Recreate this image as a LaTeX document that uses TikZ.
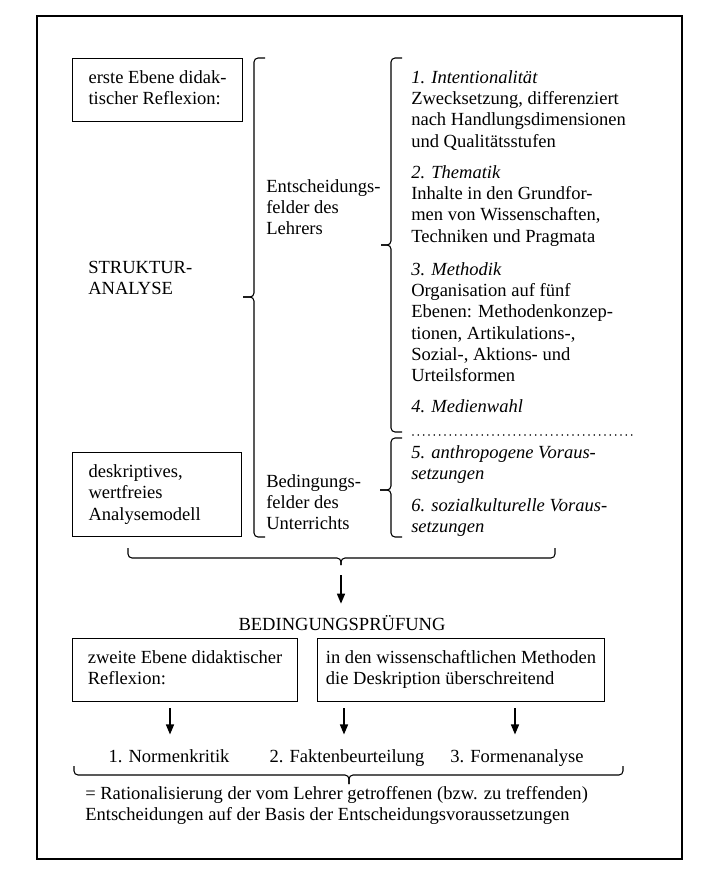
\documentclass[tikz,border=0pt]{standalone}
\usepackage{fontspec}
\setmainfont{Liberation Serif}
\usepackage{tikz}
\usetikzlibrary{arrows.meta}

\newcommand{\diafont}{\fontsize{13.9}{16}\selectfont}

\begin{document}
\begin{tikzpicture}[x=0.75pt,y=-0.75pt,
  font=\diafont,
  >={Triangle[length=7.5pt,width=6pt]},
  box/.style={draw,line width=0.8pt,anchor=north west,align=left},
  txt/.style={anchor=north west,align=left,inner sep=0pt},
  ital/.style={txt,font=\diafont\itshape},
  brace/.style={line width=0.8pt,rounded corners=3pt},
  arr/.style={->,line width=1.1pt}]
\useasboundingbox (0,0) rectangle (720,871);
\draw[line width=1.2pt] (37,16) rectangle (682,859);

% left column
\node[box,minimum width=127.5pt,minimum height=47.25pt] (ebene1) at (72,58)
  {\strut erste Ebene didak-\\tischer Reflexion:\strut};
\node[txt] (struktur) at (88,258.1) {\strut STRUKTUR-\\ANALYSE};
\node[box,minimum width=126.75pt,minimum height=63pt,text width=102.75pt] (deskr) at (72,452)
  {\strut deskriptives,\\wertfreies\\Analysemodell\strut};

% brace STRUKTUR-ANALYSE
\draw[brace] (265,58) -- (254,58) -- (254,297) -- (243,297);
\draw[brace] (243,297) -- (254,297) -- (254,537) -- (265,537);

% middle column
\node[txt] (entsch) at (266,177.1) {\strut Entscheidungs-\\felder des\\Lehrers};
\node[txt] (beding) at (266,472.1) {\strut Bedingungs-\\felder des\\Unterrichts};

% braces Entscheidungsfelder / Bedingungsfelder
\draw[brace] (402,58) -- (391,58) -- (391,245) -- (381,245);
\draw[brace] (381,245) -- (391,245) -- (391,432) -- (402,432);
\draw[brace] (402,438) -- (391,438) -- (391,490) -- (380,490);
\draw[brace] (380,490) -- (391,490) -- (391,537) -- (402,537);

% right column
\node[txt] (intent) at (411,68.1) {\strut\textit{1. Intentionalität}\\Zwecksetzung, differenziert\\nach Handlungsdimensionen\\und Qualitätsstufen};
\node[txt] (thema) at (411,163.1) {\strut\textit{2. Thematik}\\Inhalte in den Grundfor-\\men von Wissenschaften,\\Techniken und Pragmata};
\node[txt] (method) at (411,260.1) {\strut\textit{3. Methodik}\\Organisation auf fünf\\Ebenen: Methodenkonzep-\\tionen, Artikulations-,\\Sozial-, Aktions- und\\Urteilsformen};
\node[txt] (medien) at (411,397.1) {\strut\textit{4. Medienwahl}};
\draw[line width=1.3pt,line cap=round,dash pattern=on 0pt off 4pt] (413,435) -- (632,435);
\node[ital] (anthro) at (411,443.1) {\strut 5. anthropogene Voraus-\\setzungen};
\node[ital] (sozial) at (411,496.1) {\strut 6. sozialkulturelle Voraus-\\setzungen};

% brace over both fields -> Bedingungspruefung
\draw[brace] (128,548) -- (128,558) -- (341,558) -- (341,565);
\draw[brace] (341,565) -- (341,558) -- (555,558) -- (555,548);
\coordinate (from0) at (341,575);
\node[anchor=base,inner sep=0pt] (pruef) at (342,630) {BEDINGUNGSPRÜFUNG};
\draw[arr,shorten >=8.3pt] (from0) -- (from0 |- pruef.north);

% second level
\node[box,minimum width=168.75pt,minimum height=47.25pt] (ebene2) at (72,638)
  {\strut zweite Ebene didaktischer\\Reflexion:\strut};
\node[box,minimum width=215.25pt,minimum height=47.25pt] (ueber) at (317,638)
  {\strut in den wissenschaftlichen Methoden\\die Deskription überschreitend\strut};

\foreach \n/\x/\ax/\lbl in {1/169/170/Normenkritik,2/347/344/Faktenbeurteilung,3/517/515/Formenanalyse} {
  \node[anchor=base,inner sep=0pt] (krit\n) at (\x,762) {\n. \lbl};
  \coordinate (from\n) at (\ax,708);
  % arrows box -> step
  \draw[arr,shorten >=10.8pt] (from\n) -- (from\n |- krit\n.north);
}

% brace under the three steps
\draw[brace] (74,766) -- (74,775) -- (349,775) -- (349,784);
\draw[brace] (349,784) -- (349,775) -- (623,775) -- (623,766);
\node[txt] (ratio) at (85,784.1) {\strut = Rationalisierung der vom Lehrer getroffenen (bzw. zu treffenden)\\Entscheidungen auf der Basis der Entscheidungsvoraussetzungen};
\end{tikzpicture}
\end{document}
